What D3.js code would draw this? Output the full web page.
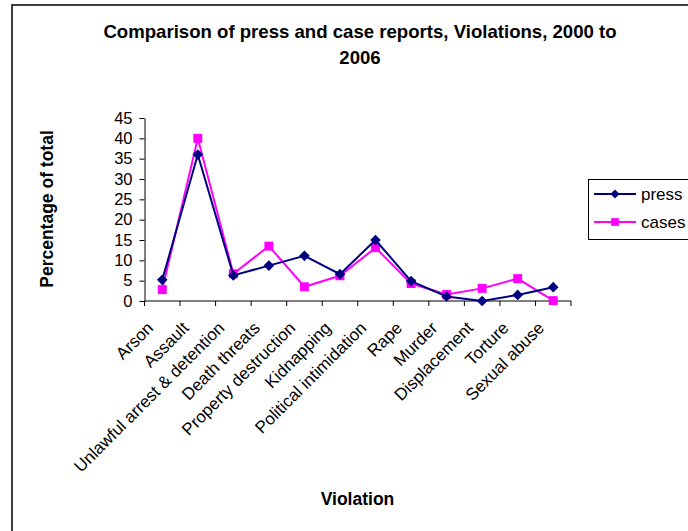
<!DOCTYPE html>
<html>
<head>
<meta charset="utf-8">
<script src="https://cdn.jsdelivr.net/npm/d3@7"></script>
<style>
  html, body { margin: 0; padding: 0; background: #fff; }
  svg { display: block; font-family: "Liberation Sans", Arial, sans-serif; }
</style>
</head>
<body>
<svg id="chart" width="688" height="531"></svg>
<script>
// Violation categories and share of total (%) for each source
const categories = ["Arson", "Assault", "Unlawful arrest & detention", "Death threats",
  "Property destruction", "Kidnapping", "Political intimidation", "Rape", "Murder",
  "Displacement", "Torture", "Sexual abuse"];
const pressValues = [5.2, 36.0, 6.3, 8.7, 11.1, 6.6, 15.0, 4.9, 1.1, 0.0, 1.5, 3.4];
const casesValues = [2.8, 40.0, 6.7, 13.5, 3.5, 6.2, 13.1, 4.3, 1.6, 3.1, 5.5, 0.1];
const yTicks = [0, 5, 10, 15, 20, 25, 30, 35, 40, 45];

const svg = d3.select("#chart");

// outer chart frame
svg.append("rect")
  .attr("x", 12).attr("y", 5).attr("width", 700).attr("height", 540)
  .attr("fill", "#fff").attr("stroke", "#000").attr("stroke-width", 1.5);

const plot = { left: 144.5, right: 571, top: 118, bottom: 301 };

const x = d3.scaleBand().domain(categories).range([plot.left, plot.right]);
const y = d3.scaleLinear().domain([0, 45]).range([plot.bottom, plot.top]);

// title
const title = svg.append("text")
  .attr("text-anchor", "middle")
  .attr("font-size", 18.6).attr("font-weight", "bold");
title.append("tspan").attr("x", 360).attr("y", 38).text("Comparison of press and case reports, Violations, 2000 to");
title.append("tspan").attr("x", 360).attr("y", 64).text("2006");

// y axis
const yAxis = svg.append("g")
  .attr("transform", `translate(${plot.left},0)`)
  .call(d3.axisLeft(y).tickValues(yTicks).tickSize(5).tickSizeOuter(0).tickPadding(7));
yAxis.select(".domain").attr("stroke", "#000");
yAxis.selectAll("text").attr("font-size", 16.5).attr("fill", "#000")
  .attr("font-family", "Liberation Sans, Arial, sans-serif");

// x axis: ticks at category boundaries
const xAxisG = svg.append("g");
xAxisG.append("line")
  .attr("x1", plot.left).attr("x2", plot.right)
  .attr("y1", plot.bottom).attr("y2", plot.bottom)
  .attr("stroke", "#000");
const boundaries = categories.map(c => x(c)).concat([x(categories[categories.length - 1]) + x.bandwidth()]);
xAxisG.selectAll("line.tick").data(boundaries).join("line")
  .attr("class", "tick")
  .attr("x1", d => d).attr("x2", d => d)
  .attr("y1", plot.bottom).attr("y2", plot.bottom + 5)
  .attr("stroke", "#000");
xAxisG.selectAll("text").data(categories).join("text")
  .attr("transform", d => `translate(${x(d) + x.bandwidth() / 2 - 8},${plot.bottom + 28}) rotate(-45)`)
  .attr("text-anchor", "end")
  .attr("font-size", 17)
  .text(d => d);

// axis titles
svg.append("text")
  .attr("transform", "translate(53,209) rotate(-90)")
  .attr("text-anchor", "middle")
  .attr("font-size", 17.5).attr("font-weight", "bold")
  .text("Percentage of total");
svg.append("text")
  .attr("x", 357.5).attr("y", 505)
  .attr("text-anchor", "middle")
  .attr("font-size", 17.5).attr("font-weight", "bold")
  .text("Violation");

const cx = d => x(d) + x.bandwidth() / 2;
const line = d3.line().x(d => cx(d.c)).y(d => y(d.v));

const series = [
  { name: "press", values: pressValues, color: "#000080", symbol: d3.symbolDiamond2, size: 72 },
  { name: "cases", values: casesValues, color: "#FF00FF", symbol: d3.symbolSquare, size: 80 }
];

// draw cases under press so the navy line sits on top where they overlap
[series[1], series[0]].forEach(s => {
  const data = categories.map((c, i) => ({ c, v: s.values[i] }));
  svg.append("path").datum(data)
    .attr("d", line).attr("fill", "none")
    .attr("stroke", s.color).attr("stroke-width", 2);
  svg.append("g").selectAll("path").data(data).join("path")
    .attr("transform", d => `translate(${cx(d.c)},${y(d.v)})`)
    .attr("d", d3.symbol(s.symbol, s.size))
    .attr("fill", s.color);
});

// legend
const legend = svg.append("g");
legend.append("rect")
  .attr("x", 588.5).attr("y", 179.5).attr("width", 130).attr("height", 60)
  .attr("fill", "#fff").attr("stroke", "#000").attr("stroke-width", 1);
series.forEach((s, i) => {
  const ly = 194 + i * 28;
  legend.append("line")
    .attr("x1", 594).attr("x2", 636).attr("y1", ly).attr("y2", ly)
    .attr("stroke", s.color).attr("stroke-width", 2);
  legend.append("path")
    .attr("transform", `translate(615,${ly})`)
    .attr("d", d3.symbol(s.symbol, s.size * 0.75))
    .attr("fill", s.color);
  legend.append("text")
    .attr("x", 641).attr("y", ly).attr("dy", "0.35em")
    .attr("font-size", 17)
    .text(s.name);
});
</script>
</body>
</html>
